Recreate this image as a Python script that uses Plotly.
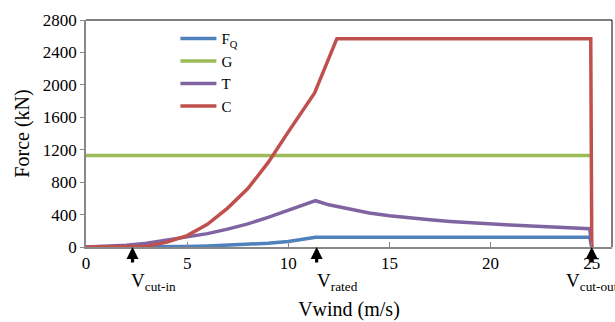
import plotly.graph_objects as go

# Wind speed samples (m/s)
v_fq = [0, 1, 2, 3, 4, 5, 6, 7, 8, 9, 10, 11.35, 12, 13, 14, 15, 16, 17, 18, 19, 20, 21, 22, 23, 24, 24.9, 25]
fq   = [0, 0, 0, 0, 2, 6, 12, 20, 32, 46, 68, 120, 120, 120, 120, 120, 120, 120, 120, 120, 120, 120, 120, 120, 120, 120, 0]

v_g = [0, 25]
g   = [1130, 1130]

v_t = [0, 1, 2, 3, 4, 5, 6, 7, 8, 9, 10, 11.35, 12, 13, 14, 15, 16, 17, 18, 19, 20, 21, 22, 23, 24, 24.9, 25]
t   = [0, 8, 22, 45, 82, 120, 165, 220, 285, 365, 455, 571, 520, 465, 420, 385, 358, 335, 315, 298, 283, 270, 258, 247, 236, 226, 0]

v_c = [0, 1, 2, 3, 4, 5, 6, 7, 8, 9, 10, 11.3, 12.4, 13, 15, 20, 24.95, 25]
c   = [0, 0, 0, 10, 60, 140, 280, 480, 720, 1040, 1420, 1900, 2570, 2570, 2570, 2570, 2570, 0]

series_names = ["F<sub>Q</sub>", "G", "T", "C"]
colors = ["#4f81bd", "#9bbb59", "#8064a2", "#c0504d"]

x_ticks = [0, 5, 10, 15, 20, 25]
y_ticks = [0, 400, 800, 1200, 1600, 2000, 2400, 2800]

mark_speeds = [2.3, 11.4, 25.0]
mark_main = ["V", "V", "V"]
mark_sub = ["cut-in", "rated", "cut-out"]
label_xshift = [-4, -2, -28]

FONT = "Liberation Serif"

fig = go.Figure()
for xs, ys, name, col in zip([v_fq, v_g, v_t, v_c], [fq, g, t, c], series_names, colors):
    fig.add_trace(go.Scatter(x=xs, y=ys, mode="lines", name=name,
                             line=dict(color=col, width=3.5)))

for v, m, s, dx in zip(mark_speeds, mark_main, mark_sub, label_xshift):
    fig.add_annotation(x=v, y=0, xref="x", yref="y", text="", showarrow=True,
                       ax=0, ay=17, arrowhead=2, arrowsize=0.75, arrowwidth=3.2,
                       arrowcolor="black", standoff=0)
    fig.add_annotation(x=v, y=0, xref="x", yref="y", xanchor="left", yanchor="top",
                       text=f"{m}<sub>{s}</sub>", showarrow=False, xshift=dx, yshift=-21,
                       font=dict(family=FONT, size=19, color="black"))

# frame lines top/right
fig.add_shape(type="line", xref="paper", yref="paper", x0=0, x1=1, y0=1, y1=1,
              line=dict(color="black", width=1))
fig.add_shape(type="line", xref="paper", yref="paper", x0=1, x1=1, y0=0, y1=1,
              line=dict(color="black", width=1))

fig.update_layout(
    width=615, height=322,
    margin=dict(l=86, r=3, t=20, b=75),
    paper_bgcolor="white", plot_bgcolor="white",
    font=dict(family=FONT, size=16, color="black"),
    showlegend=True,
    legend=dict(x=0.17, y=0.99, xanchor="left", yanchor="top",
                bgcolor="rgba(0,0,0,0)", font=dict(family=FONT, size=15),
                tracegroupgap=0, itemwidth=36),
    xaxis=dict(range=[0, 26], tickvals=x_ticks, showgrid=False, zeroline=False,
               showline=True, linecolor="#888888", linewidth=1.5,
               ticks="inside", ticklen=5, tickcolor="#888888",
               tickfont=dict(family=FONT, size=17),
               title=dict(text="Vwind (m/s)", font=dict(family=FONT, size=20), standoff=30)),
    yaxis=dict(range=[0, 2800], tickvals=y_ticks, showgrid=False, zeroline=False,
               showline=True, linecolor="#888888", linewidth=1.5,
               ticks="outside", ticklen=4, tickcolor="#888888",
               tickfont=dict(family=FONT, size=17),
               title=dict(text="Force (kN)", font=dict(family=FONT, size=20), standoff=8)),
)

fig.write_html("out.html")
